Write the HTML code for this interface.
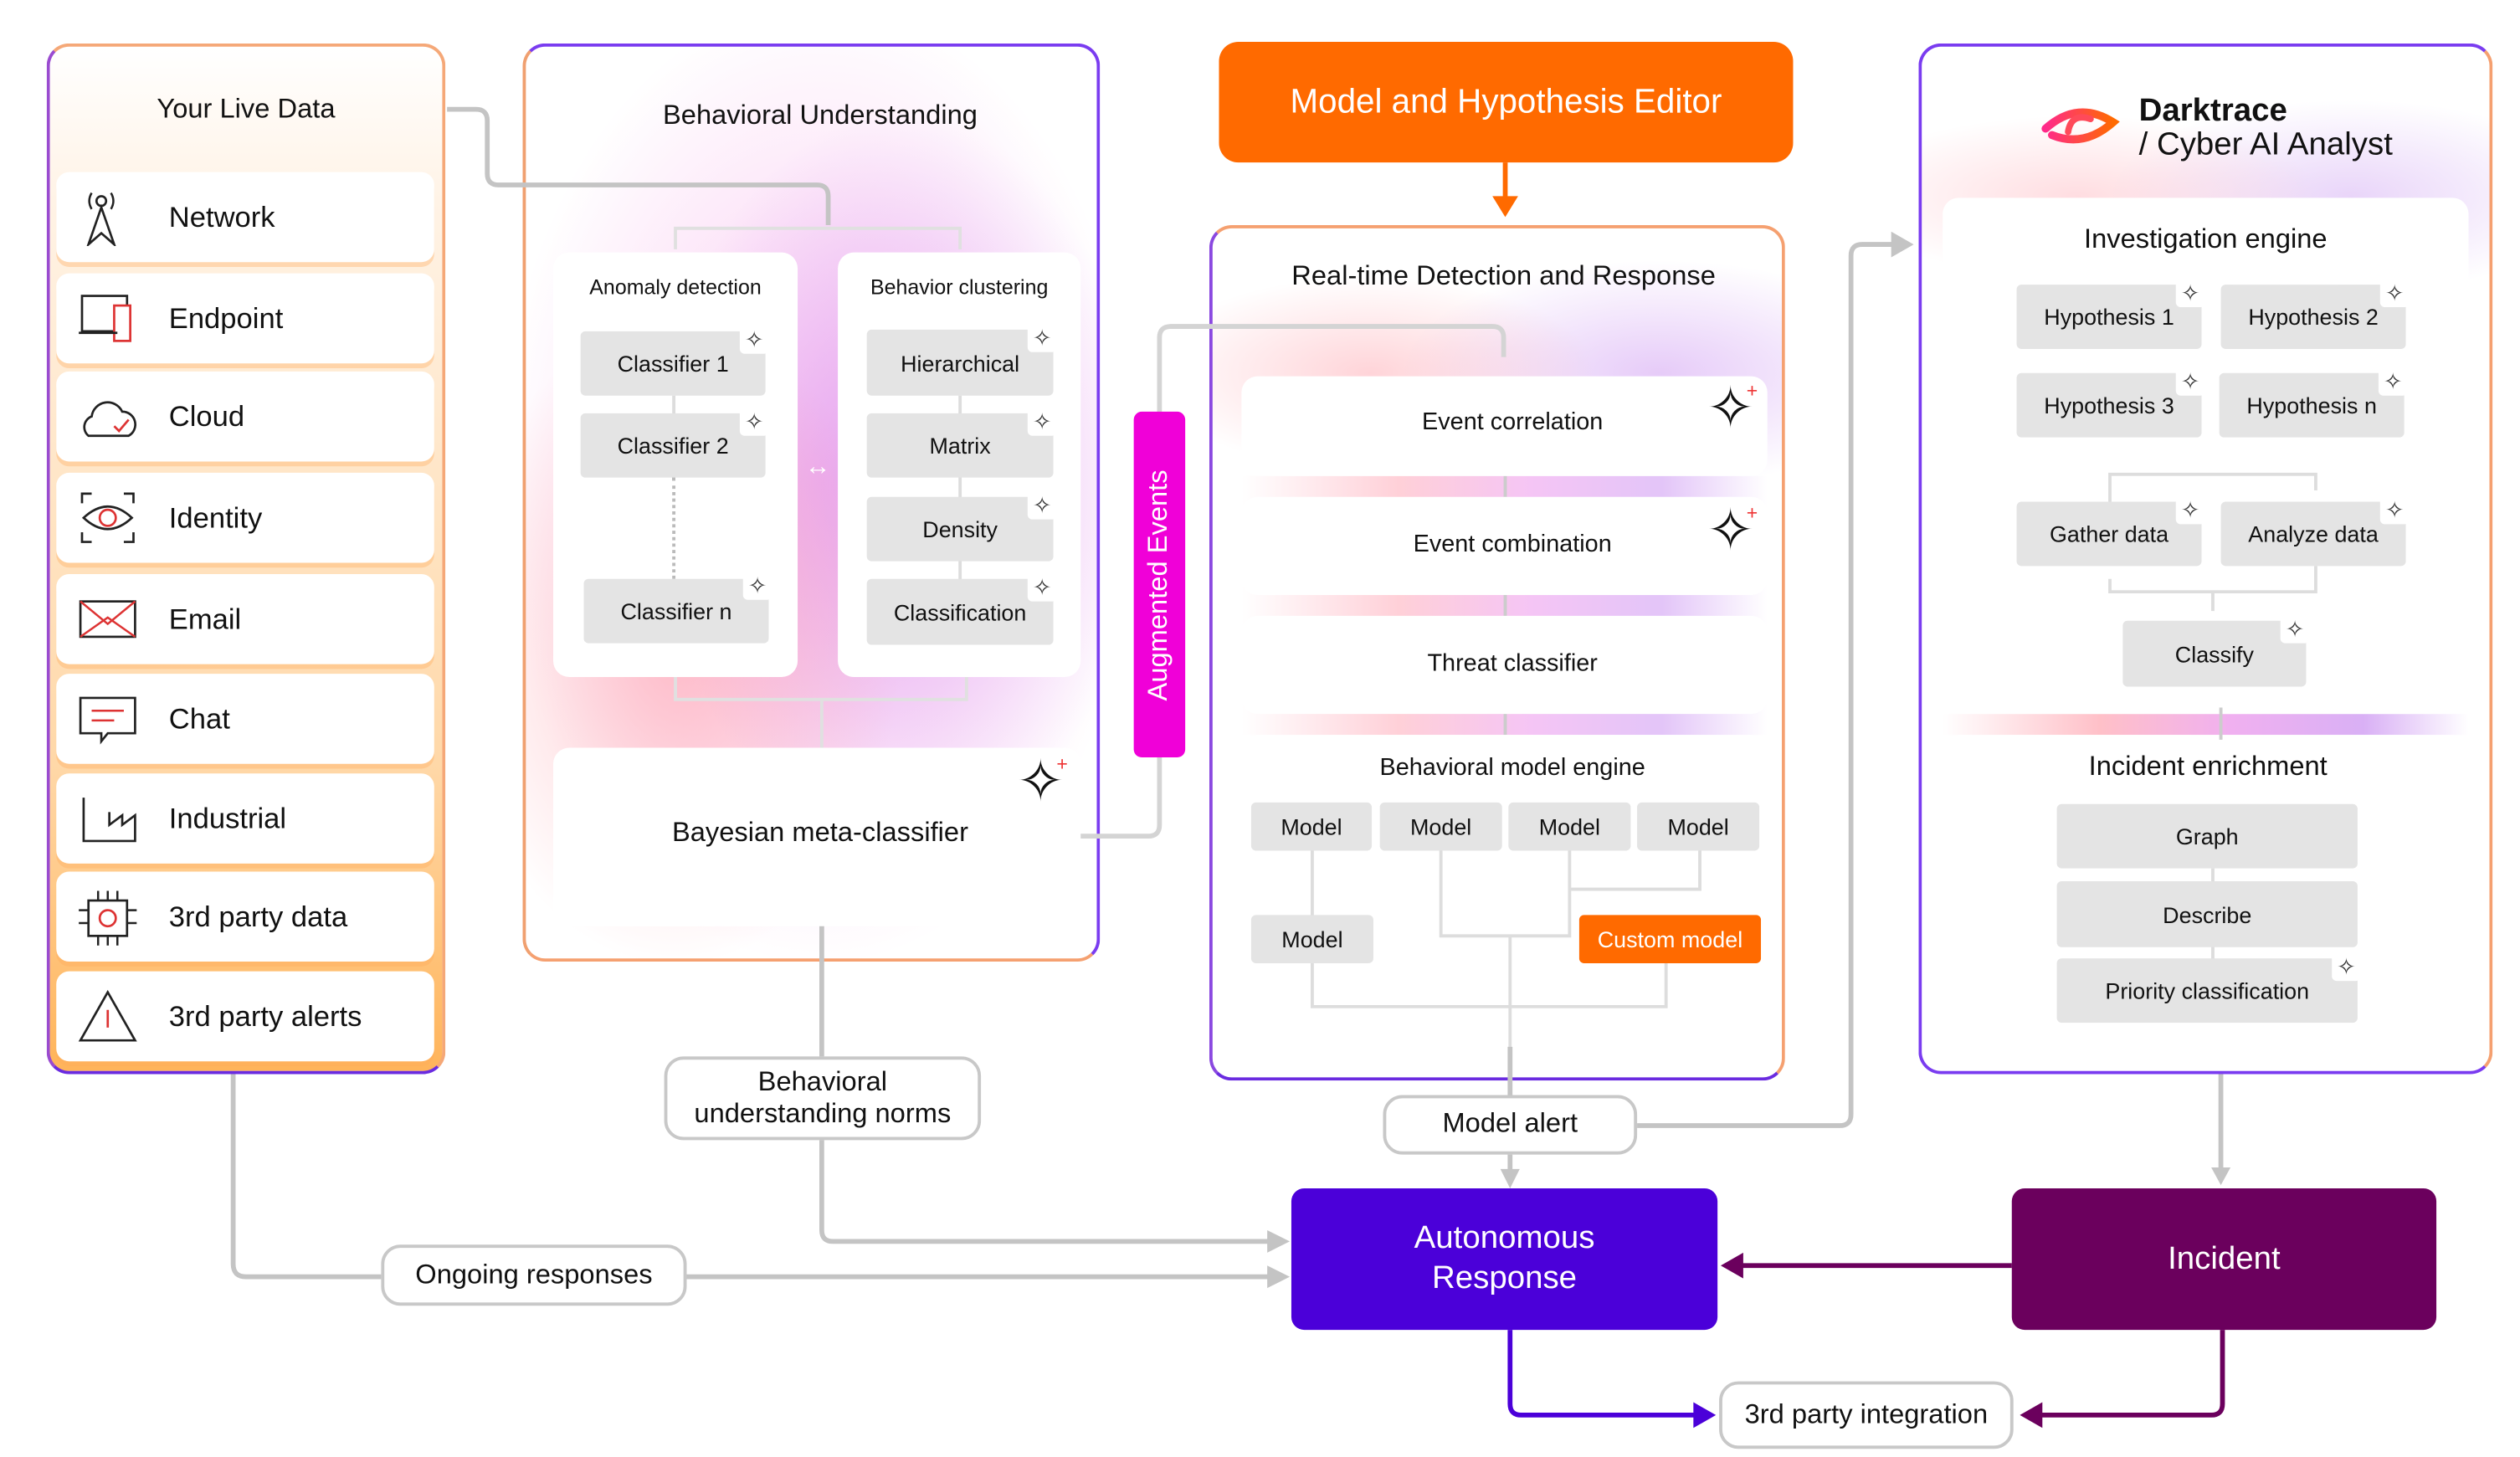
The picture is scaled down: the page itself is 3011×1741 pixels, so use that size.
<!DOCTYPE html>
<html><head><meta charset="utf-8">
<style>
*{box-sizing:border-box;margin:0;padding:0}
html,body{width:3011px;height:1740px;overflow:hidden;background:#fff;font-family:"Liberation Sans",sans-serif;color:#111}
#s{position:absolute;left:0;top:0;width:1567px;height:906px;transform:scale(1.9215);transform-origin:0 0}
.a{position:absolute}
.c{display:flex;align-items:center;justify-content:center;text-align:center}
.panel{position:absolute;border-radius:14px;border:2px solid #7a3cf0}
.item{position:absolute;left:35px;width:235px;height:56px;background:#fff;border-radius:8px;font-size:18px;display:flex;align-items:center;padding-left:70px;box-shadow:0 3px 0 rgba(255,170,90,.35)}
.ico{position:absolute;left:12px;top:10px;width:40px;height:36px}
.wb{position:absolute;background:#fff;border-radius:10px}
.g{position:absolute;background:#e4e4e4;border-radius:3px;font-size:14px;display:flex;align-items:center;justify-content:center}
.sp{position:absolute;width:18px;height:18px;background:#fff;border-radius:3px;font-size:14px;line-height:18px;text-align:center;color:#333}
.lbl{position:absolute;background:#fff;border:2px solid #c8c8c8;border-radius:12px;font-size:17px;display:flex;align-items:center;justify-content:center;text-align:center;line-height:1.2}
</style></head><body>
<div id="s">
<!-- Live Data -->
<div class="panel" style="left:29px;top:27px;width:248px;height:641px;border-color:#f5a878 #f5a878 #6a2be0 #9a4bd0;background:linear-gradient(180deg,#fff 0%,#fff3e6 15%,#ffd8a8 70%,#ffb45a 100%)"></div>
<div class="a c" style="left:29px;top:56px;width:248px;height:24px;font-size:17px">Your Live Data</div>
<div class="item" style="top:107px"><svg class="ico" viewBox="0 0 40 36"><circle cx="16" cy="8" r="3" fill="none" stroke="#222" stroke-width="1.4"/><path d="M10 3q-3 5 0 10M22 3q3 5 0 10" fill="none" stroke="#222" stroke-width="1.3"/><path d="M16 12 L8 35 L16 28 L24 35 Z" fill="none" stroke="#222" stroke-width="1.4"/></svg>Network</div>
<div class="item" style="top:170px"><svg class="ico" viewBox="0 0 40 36"><rect x="4" y="4" width="28" height="22" fill="none" stroke="#222" stroke-width="1.4"/><rect x="24" y="10" width="10" height="22" fill="#fff" stroke="#d33" stroke-width="1.4"/><path d="M2 27h24" stroke="#222" stroke-width="1.4"/></svg>Endpoint</div>
<div class="item" style="top:231px"><svg class="ico" viewBox="0 0 40 36"><path d="M8 30 a7 7 0 0 1 2-12 a10 10 0 0 1 19-3 a8 8 0 0 1 4 15 Z" fill="none" stroke="#222" stroke-width="1.4"/><path d="M24 24l3 3 6-7" fill="none" stroke="#d33" stroke-width="1.4"/></svg>Cloud</div>
<div class="item" style="top:294px"><svg class="ico" viewBox="0 0 40 36"><path d="M4 9V3h6M30 3h6v6M4 27v6h6M36 27v6h-6" fill="none" stroke="#222" stroke-width="1.4"/><path d="M5 18q15-14 30 0q-15 14-30 0z" fill="none" stroke="#222" stroke-width="1.4"/><circle cx="20" cy="18" r="5" fill="none" stroke="#d33" stroke-width="1.4"/></svg>Identity</div>
<div class="item" style="top:357px"><svg class="ico" viewBox="0 0 40 36"><rect x="3" y="7" width="34" height="22" fill="none" stroke="#222" stroke-width="1.4"/><path d="M3 29L20 17L37 29M3 7l17 14 17-14" fill="none" stroke="#d33" stroke-width="1.3"/></svg>Email</div>
<div class="item" style="top:419px"><svg class="ico" viewBox="0 0 40 36"><path d="M3 5h34v22H20l-4 5v-5H3z" fill="none" stroke="#222" stroke-width="1.4"/><path d="M10 13h20M10 19h14" stroke="#d33" stroke-width="1.3"/></svg>Chat</div>
<div class="item" style="top:481px"><svg class="ico" viewBox="0 0 40 36"><path d="M5 5v27h32V16l-8 6v-6l-8 6V14" fill="none" stroke="#222" stroke-width="1.4"/></svg>Industrial</div>
<div class="item" style="top:542px"><svg class="ico" viewBox="0 0 40 36"><rect x="8" y="8" width="24" height="22" fill="none" stroke="#222" stroke-width="1.4"/><circle cx="20" cy="19" r="5" fill="none" stroke="#d33" stroke-width="1.4"/><path d="M14 2v6M20 2v6M26 2v6M14 30v6M20 30v6M26 30v6M2 14h6M2 22h6M32 14h6M32 22h6" stroke="#222" stroke-width="1.3"/></svg>3rd party data</div>
<div class="item" style="top:604px"><svg class="ico" viewBox="0 0 40 36"><path d="M20 3L3 33h34z" fill="none" stroke="#222" stroke-width="1.4"/><path d="M20 14v11" stroke="#d33" stroke-width="1.4"/></svg>3rd party alerts</div>

<!-- Behavioral Understanding -->
<div class="panel" style="left:325px;top:27px;width:359px;height:571px;border-color:#7a3cf0 #7a3cf0 #f5a070 #f0a070;background:radial-gradient(ellipse 140px 200px at 420px 400px,rgba(255,150,160,.55),transparent),radial-gradient(ellipse 150px 230px at 560px 300px,rgba(210,130,240,.55),transparent),radial-gradient(ellipse 200px 300px at 510px 300px,rgba(245,160,230,.6),transparent),#fff;background-origin:border-box;background-position:-325px -27px;background-size:1560px 901px"></div>
<div class="a c" style="left:325px;top:60px;width:370px;height:24px;font-size:17px">Behavioral Understanding</div>
<div class="wb" style="left:344px;top:157px;width:152px;height:264px"></div>
<div class="wb" style="left:521px;top:157px;width:151px;height:264px"></div>
<div class="a c" style="left:344px;top:171px;width:152px;font-size:13px">Anomaly detection</div>
<div class="a c" style="left:521px;top:171px;width:151px;font-size:13px">Behavior clustering</div>
<div class="a" style="left:418px;top:246px;width:2px;height:12px;background:#ddd"></div>
<div class="a" style="left:418px;top:297px;width:0;height:63px;border-left:2px dotted #bbb"></div>
<div class="a" style="left:596px;top:246px;width:2px;height:115px;background:#ddd"></div>
<div class="g" style="left:361px;top:206px;width:115px;height:40px">Classifier 1</div>
<div class="g" style="left:361px;top:257px;width:115px;height:40px">Classifier 2</div>
<div class="g" style="left:363px;top:360px;width:115px;height:40px">Classifier n</div>
<div class="g" style="left:539px;top:205px;width:116px;height:41px">Hierarchical</div>
<div class="g" style="left:539px;top:257px;width:116px;height:40px">Matrix</div>
<div class="g" style="left:539px;top:309px;width:116px;height:40px">Density</div>
<div class="g" style="left:539px;top:360px;width:116px;height:41px">Classification</div>
<div class="sp" style="left:460px;top:202px">✧</div><div class="sp" style="left:460px;top:253px">✧</div><div class="sp" style="left:462px;top:355px">✧</div>
<div class="sp" style="left:639px;top:201px">✧</div><div class="sp" style="left:639px;top:253px">✧</div><div class="sp" style="left:639px;top:305px">✧</div><div class="sp" style="left:639px;top:356px">✧</div>
<div class="a c" style="left:496px;top:282px;width:25px;height:18px;color:#fff;font-size:16px">↔</div>
<div class="wb" style="left:344px;top:465px;width:328px;height:111px"></div>
<div class="a c" style="left:344px;top:508px;width:332px;font-size:17px">Bayesian meta-classifier</div>
<div class="a" style="left:632px;top:466px;font-size:36px;line-height:40px">✧</div><div class="a" style="left:657px;top:468px;color:#e33;font-size:12px">+</div>

<!-- Editor -->
<div class="a c" style="left:758px;top:26px;width:357px;height:75px;background:#ff6a00;border-radius:12px;color:#fff;font-size:21px">Model and Hypothesis Editor</div>

<!-- RTDR -->
<div class="panel" style="left:752px;top:140px;width:358px;height:532px;border-color:#f5a070 #f5a070 #6a2be0 #8a48e0;background:radial-gradient(ellipse 140px 60px at 850px 230px,rgba(255,160,170,.45),transparent),radial-gradient(ellipse 160px 70px at 1030px 230px,rgba(200,140,240,.45),transparent),#fff;background-position:-752px -140px;background-size:1560px 901px"></div>
<div class="a c" style="left:752px;top:162px;width:366px;font-size:17px">Real-time Detection and Response</div>
<div class="a" style="left:772px;top:296px;width:327px;height:161px;background:linear-gradient(90deg,#fff,#ffd0d8 30%,#f5c5f5 55%,#e3c5f8 80%,#fff)"></div>
<div class="a" style="left:935px;top:296px;width:2px;height:161px;background:#ccc"></div>
<div class="wb" style="left:772px;top:234px;width:327px;height:62px"></div>
<div class="wb" style="left:772px;top:309px;width:327px;height:61px"></div>
<div class="wb" style="left:772px;top:383px;width:327px;height:61px"></div>
<div class="wb" style="left:772px;top:457px;width:327px;height:194px"></div>
<div class="a c" style="left:772px;top:254px;width:337px;font-size:15px">Event correlation</div>
<div class="a c" style="left:772px;top:330px;width:337px;font-size:15px">Event combination</div>
<div class="a c" style="left:772px;top:404px;width:337px;font-size:15px">Threat classifier</div>
<div class="a c" style="left:772px;top:469px;width:337px;font-size:15px">Behavioral model engine</div>
<div class="a" style="left:1061px;top:234px;font-size:36px;line-height:40px">✧</div><div class="a" style="left:1086px;top:236px;color:#e33;font-size:12px">+</div>
<div class="a" style="left:1061px;top:310px;font-size:36px;line-height:40px">✧</div><div class="a" style="left:1086px;top:312px;color:#e33;font-size:12px">+</div>
<svg class="a" style="left:0;top:0" width="1560" height="901"><g fill="none" stroke="#ddd" stroke-width="2"><path d="M816 529V626H1036V599M896 529V582H976V529M976 553H1057V529M939 582V672"/></g></svg>
<div class="g" style="left:778px;top:499px;width:75px;height:30px">Model</div>
<div class="g" style="left:858px;top:499px;width:76px;height:30px">Model</div>
<div class="g" style="left:938px;top:499px;width:76px;height:30px">Model</div>
<div class="g" style="left:1018px;top:499px;width:76px;height:30px">Model</div>
<div class="g" style="left:778px;top:569px;width:76px;height:30px">Model</div>
<div class="g" style="left:982px;top:569px;width:113px;height:30px;background:#ff6a00;color:#fff">Custom model</div>

<!-- Analyst -->
<div class="panel" style="left:1193px;top:27px;width:357px;height:641px;border-color:#7a3cf0 #f5a070 #7a3cf0 #7a3cf0;background:radial-gradient(ellipse 150px 50px at 1290px 120px,rgba(255,170,180,.4),transparent),radial-gradient(ellipse 150px 60px at 1460px 120px,rgba(200,150,240,.4),transparent),#fff;background-position:-1193px -27px;background-size:1560px 901px"></div>
<svg class="a" style="left:1268px;top:62px" width="52" height="32" viewBox="0 0 52 32"><defs><linearGradient id="lg" x1="0" x2="1"><stop offset="0" stop-color="#ff2a8a"/><stop offset="1" stop-color="#ff6a00"/></linearGradient></defs><path d="M4 18 Q24 0 46 14 Q28 30 8 22" fill="none" stroke="url(#lg)" stroke-width="5" stroke-linecap="round"/><path d="M18 20 Q20 8 32 12" fill="none" stroke="#ff4a5a" stroke-width="4" stroke-linecap="round"/></svg>
<div class="a" style="left:1330px;top:58px;font-size:20px;font-weight:bold;line-height:22px">Darktrace</div>
<div class="a" style="left:1330px;top:79px;font-size:20px;line-height:22px">/ Cyber AI Analyst</div>
<div class="a" style="left:1208px;top:444px;width:327px;height:13px;background:linear-gradient(90deg,#fff,#ffc0c8 30%,#f0b0f0 55%,#d9b0f5 80%,#fff)"></div>
<div class="wb" style="left:1208px;top:123px;width:327px;height:321px"></div>
<div class="wb" style="left:1208px;top:457px;width:327px;height:195px"></div>
<div class="a" style="left:1380px;top:440px;width:2px;height:20px;background:#ccc"></div>
<div class="a c" style="left:1208px;top:139px;width:327px;font-size:17px">Investigation engine</div>
<div class="a c" style="left:1208px;top:467px;width:330px;font-size:17px">Incident enrichment</div>
<svg class="a" style="left:0;top:0" width="1560" height="901"><g fill="none" stroke="#ddd" stroke-width="2"><path d="M1312 312V295H1440V305M1312 360V368H1440V352M1376 368V380M1376 540V600"/></g></svg>
<div class="g" style="left:1254px;top:177px;width:115px;height:40px">Hypothesis 1</div>
<div class="g" style="left:1381px;top:177px;width:115px;height:40px">Hypothesis 2</div>
<div class="g" style="left:1254px;top:232px;width:115px;height:40px">Hypothesis 3</div>
<div class="g" style="left:1380px;top:232px;width:115px;height:40px">Hypothesis n</div>
<div class="g" style="left:1254px;top:312px;width:115px;height:40px">Gather data</div>
<div class="g" style="left:1381px;top:312px;width:115px;height:40px">Analyze data</div>
<div class="g" style="left:1320px;top:386px;width:114px;height:41px">Classify</div>
<div class="g" style="left:1279px;top:500px;width:187px;height:40px">Graph</div>
<div class="g" style="left:1279px;top:548px;width:187px;height:41px">Describe</div>
<div class="g" style="left:1279px;top:596px;width:187px;height:40px">Priority classification</div>
<div class="sp" style="left:1353px;top:173px">✧</div><div class="sp" style="left:1480px;top:173px">✧</div>
<div class="sp" style="left:1353px;top:228px">✧</div><div class="sp" style="left:1479px;top:228px">✧</div>
<div class="sp" style="left:1353px;top:308px">✧</div><div class="sp" style="left:1480px;top:308px">✧</div>
<div class="sp" style="left:1418px;top:382px">✧</div><div class="sp" style="left:1450px;top:592px">✧</div>

<!-- connectors -->
<svg class="a" style="left:0;top:0" width="1560" height="901">
<g fill="none" stroke="#c4c4c4" stroke-width="3">
<path d="M278 68H296Q303 68 303 75V108Q303 115 310 115H508Q515 115 515 122V140"/>
<path d="M420 155V142H597V155M420 421V435H601V421M511 435V465" stroke="#e0e0e0" stroke-width="2"/>
<path d="M672 520H714Q721 520 721 513V210Q721 203 728 203H928Q935 203 935 210V222" stroke="#d4d4d4"/>
<path d="M511 576V657M511 709V765Q511 772 518 772H790"/>
<path d="M145 668V786Q145 794 153 794H237M427 794H790"/>
<path d="M939 651V681M939 718V728"/>
<path d="M1018 700H1144Q1151 700 1151 693V159Q1151 152 1158 152H1178"/>
<path d="M1381 668V727"/>
</g>
<g fill="#c4c4c4"><path d="M788 765L802 772L788 779Z"/><path d="M788 787L802 794L788 801Z"/><path d="M933 727L939 739L945 727Z"/><path d="M1176 144L1190 152L1176 160Z"/><path d="M1375 726L1381 737L1387 726Z"/></g>
<path d="M936 101V124" stroke="#ff6a00" stroke-width="3" fill="none"/><path d="M928 122L936 135L944 122Z" fill="#ff6a00"/>
<path d="M1251 787H1082" stroke="#6b005d" stroke-width="3" fill="none"/><path d="M1084 779L1070 787L1084 795Z" fill="#6b005d"/>
<path d="M939 827V873Q939 880 946 880H1055" stroke="#4b00d9" stroke-width="3" fill="none"/><path d="M1053 872L1067 880L1053 888Z" fill="#4b00d9"/>
<path d="M1382 827V873Q1382 880 1375 880H1268" stroke="#6b005d" stroke-width="3" fill="none"/><path d="M1270 872L1256 880L1270 888Z" fill="#6b005d"/>
</svg>

<!-- Augmented Events (above connector) -->
<div class="a" style="left:705px;top:256px;width:32px;height:215px;background:#f000d8;border-radius:5px"></div>
<div class="a c" style="left:613px;top:352px;width:215px;height:24px;color:#fff;font-size:17px;transform:rotate(-90deg)">Augmented Events</div>

<!-- labels -->
<div class="lbl" style="left:413px;top:657px;width:197px;height:52px">Behavioral<br>understanding norms</div>
<div class="lbl" style="left:860px;top:681px;width:158px;height:37px">Model alert</div>
<div class="lbl" style="left:237px;top:774px;width:190px;height:38px">Ongoing responses</div>
<div class="lbl" style="left:1069px;top:859px;width:183px;height:42px">3rd party integration</div>

<div class="a c" style="left:803px;top:739px;width:265px;height:88px;background:#4b00d9;border-radius:8px;color:#fff;font-size:20px;line-height:25px">Autonomous<br>Response</div>
<div class="a c" style="left:1251px;top:739px;width:264px;height:88px;background:#6b005d;border-radius:8px;color:#fff;font-size:20px">Incident</div>
</div>
</body></html>
